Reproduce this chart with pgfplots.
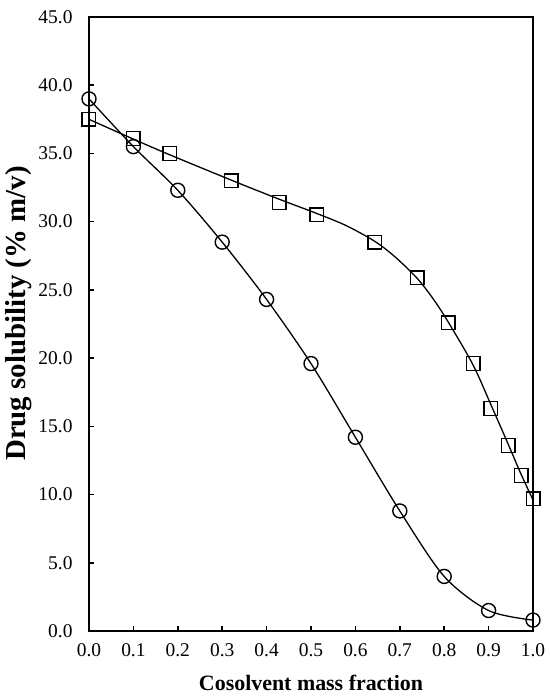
\documentclass[border=0pt]{standalone}
\usepackage{pgfplots}
\pgfplotsset{compat=1.18}
\usepackage{fontspec}
\setmainfont{Liberation Serif}
\pgfplotstableread{
x y
0.0 39.0
0.1 35.5
0.2 32.3
0.3 28.5
0.4 24.3
0.5 19.6
0.6 14.2
0.7 8.8
0.8 4.0
0.9 1.5
1.0 0.8
}\circdata
\pgfplotstableread{
x y
0.000 37.5
0.100 36.1
0.182 35.0
0.320 33.0
0.428 31.4
0.513 30.5
0.644 28.5
0.739 25.9
0.809 22.6
0.865 19.6
0.905 16.3
0.944 13.6
0.973 11.4
1.000 9.7
}\sqdata
% fitted curve through the square series
\pgfplotstableread{
x y
0.000 37.5
0.100 36.05
0.182 34.9
0.320 33.05
0.428 31.65
0.513 30.6
0.580 29.7
0.644 28.55
0.690 27.4
0.739 25.85
0.775 24.35
0.809 22.65
0.865 19.5
0.905 16.6
0.944 13.7
0.973 11.5
1.000 9.6
}\sqfit
\begin{document}
\begin{tikzpicture}
\useasboundingbox (-89bp,-68bp) rectangle (461bp,631bp);
\begin{axis}[
  at={(0bp,0bp)}, anchor=south west,
  scale only axis, width=444bp, height=614bp,
  xmin=0, xmax=1, ymin=0, ymax=45,
  xtick={0,0.1,0.2,0.3,0.4,0.5,0.6,0.7,0.8,0.9,1.0},
  ytick={0,5,10,15,20,25,30,35,40,45},
  tick align=inside, xtick pos=left, ytick pos=left,
  major tick length=5bp,
  axis line style={line width=1.8bp},
  every tick/.style={black, line width=1.5bp},
  ticklabel style={font=\fontsize{19.5}{19.5}\selectfont},
  xticklabel style={yshift=-9bp},
  yticklabel style={xshift=-13bp},
  /pgf/number format/.cd, fixed, fixed zerofill, precision=1, assume math mode=true,
  /pgfplots/.cd,
  xlabel={Cosolvent mass fraction},
  ylabel={Drug solubility (\% m/v)},
  xlabel style={font=\fontsize{22}{22}\selectfont\bfseries, at={(axis description cs:0.5,-0.085)}, anchor=center},
  ylabel style={font=\fontsize{29}{29}\selectfont\bfseries, at={(axis description cs:-0.158,0.517)}, anchor=center},
  clip=false,
]
\addplot[black, line width=1.3bp, smooth, no marks] table {\circdata};
\addplot[black, line width=1.3bp, smooth, no marks] table {\sqfit};
\addplot[only marks, mark=o, mark size=7bp, mark options={line width=1.4bp, black}] table {\circdata};
\addplot[only marks, mark=square, mark size=6.8bp, mark options={line width=1.4bp, black}] table {\sqdata};
\end{axis}
\end{tikzpicture}
\end{document}
